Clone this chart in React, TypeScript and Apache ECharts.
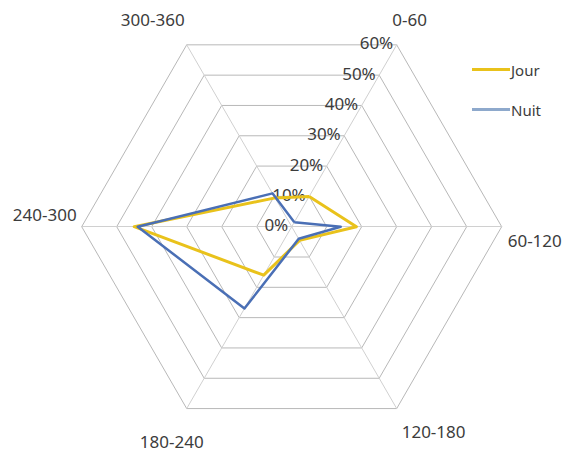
import React, { useEffect, useRef } from "react";
import * as echarts from "echarts";

const categories = ["0-60", "60-120", "120-180", "180-240", "240-300", "300-360"];
const jour = [10, 18.5, 4.5, 16, 45, 9.5];
const nuit = [1.5, 14, 4, 27, 44, 11];
const seriesNames = ["Jour", "Nuit"];
const maxValue = 60;
const tickStep = 10;

// counter-clockwise order used by the radar, starting at the 0-60 axis (60°)
const order = [0, 5, 4, 3, 2, 1];

const CX = 291.7;
const CY = 226.7;
const R = 210;
const START = 60;
const FONT = "'Noto Sans', 'DejaVu Sans', sans-serif";
const TEXT = "#3c3c3c";

// label anchor offsets relative to each outer vertex (style only)
const nameStyle: Record<string, { dx: number; dy: number; align: string }> = {
  "0-60": { dx: 13, dy: -25, align: "center" },
  "60-120": { dx: 6, dy: 14, align: "left" },
  "120-180": { dx: 5, dy: 23, align: "left" },
  "180-240": { dx: -15, dy: 33, align: "center" },
  "240-300": { dx: -5, dy: -12, align: "right" },
  "300-360": { dx: -34, dy: -25, align: "center" },
};

export default function App() {
  const ref = useRef<HTMLDivElement>(null);
  useEffect(() => {
    document.body.style.margin = "0";
    const chart = echarts.init(ref.current!, undefined, { renderer: "svg" });
    const n = categories.length;
    const indicator = order.map((i, k) => ({
      name: categories[i],
      min: 0,
      max: maxValue,
      ...(k === 0
        ? {
            axisLabel: {
              show: true,
              color: TEXT,
              fontFamily: FONT,
              fontSize: 17,
              align: "right",
              verticalAlign: "middle",
              margin: 4,
              formatter: (v: number) => `${v}%`,
            },
          }
        : {}),
    }));
    const names = order.map((i, k) => {
      const a = ((START + (360 / n) * k) * Math.PI) / 180;
      const vx = CX + R * Math.cos(a);
      const vy = CY - R * Math.sin(a);
      const s = nameStyle[categories[i]];
      return {
        type: "text",
        x: vx + s.dx,
        y: vy + s.dy,
        style: {
          text: categories[i],
          fill: TEXT,
          font: `17px ${FONT}`,
          align: s.align,
          verticalAlign: "middle",
        },
      };
    });
    chart.setOption({
      animation: false,
      backgroundColor: "#ffffff",
      legend: {
        orient: "vertical",
        left: 467,
        top: 57,
        itemWidth: 38,
        itemHeight: 3,
        itemGap: 25,
        icon: "rect",
        textStyle: { color: TEXT, fontFamily: FONT, fontSize: 15, padding: [0, 0, 0, -4] },
        data: seriesNames,
      },
      radar: {
        center: [CX, CY],
        radius: R,
        startAngle: START,
        shape: "polygon",
        splitNumber: maxValue / tickStep,
        indicator,
        axisName: { show: false },
        axisLine: { lineStyle: { color: "#d0d0d0", width: 1 } },
        splitLine: { lineStyle: { color: "#b8b8b8", width: 1 } },
        splitArea: { show: false },
        axisTick: { show: false },
      },
      graphic: names,
      series: [
        {
          type: "radar",
          symbol: "none",
          data: [
            {
              name: seriesNames[0],
              value: order.map((i) => jour[i]),
              lineStyle: { color: "#e9c21b", width: 3 },
              itemStyle: { color: "#e9c21b" },
            },
            {
              name: seriesNames[1],
              value: order.map((i) => nuit[i]),
              lineStyle: { color: "#4a6fb5", width: 2.5 },
              itemStyle: { color: "#8ea9cc" },
            },
          ],
        },
      ],
    });
    return () => chart.dispose();
  }, []);
  return <div ref={ref} style={{ width: 564, height: 455 }} />;
}
